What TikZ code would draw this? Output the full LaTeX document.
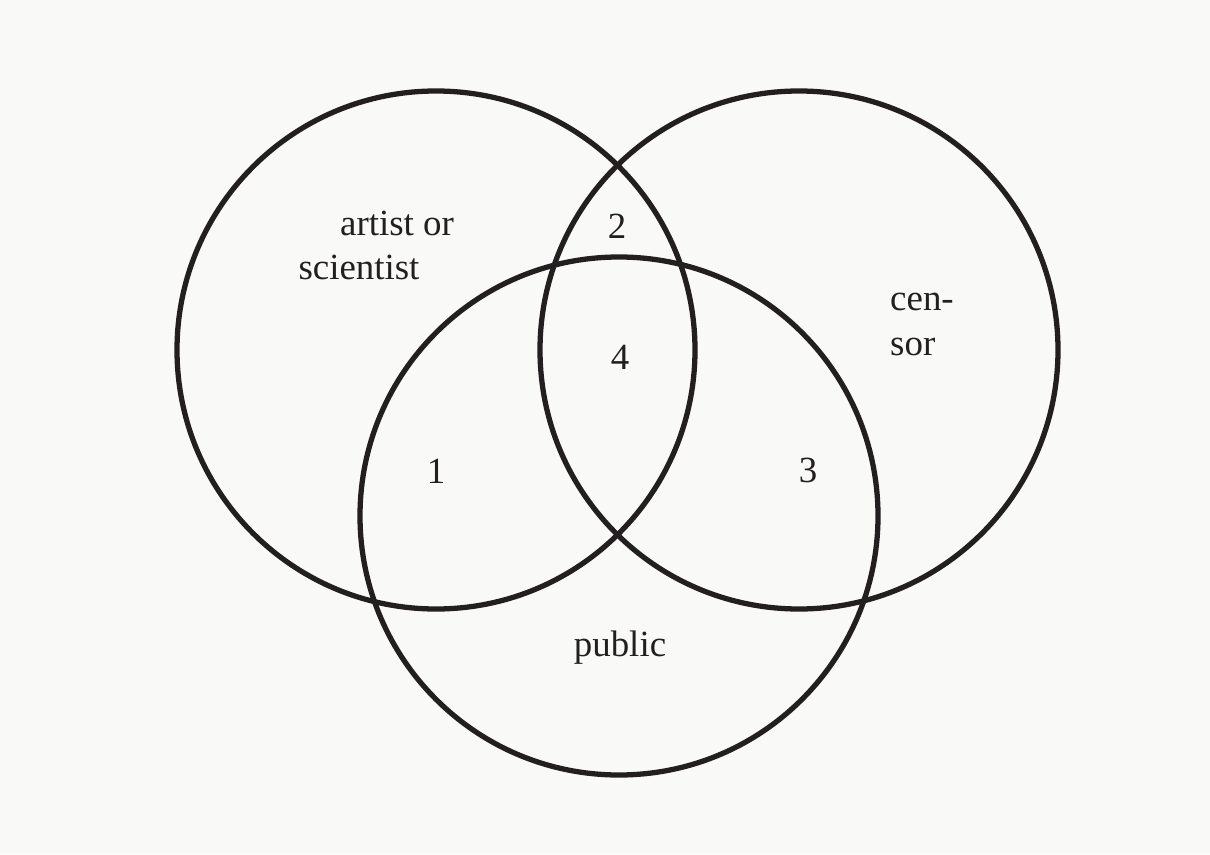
\documentclass[tikz,border=0pt]{standalone}
\usepackage{fontspec}
\setmainfont{Liberation Serif}
\usepackage{xcolor}
\usepackage{tikz}
\definecolor{kagit}{HTML}{F9F9F7}
\definecolor{murekkep}{HTML}{231F20}

\begin{document}
\begin{tikzpicture}[
  halka/.style={draw=murekkep,line width=1.5pt,circle,minimum size=5.18cm,inner sep=0pt},
  etiket/.style={text=murekkep,font=\fontsize{10.5}{12}\selectfont,inner sep=1pt}]
\fill[kagit] (0,0) rectangle (12.10,8.54);
\useasboundingbox (0,0) rectangle (12.10,8.54);
% uc halka
\node[halka] (sanatci) at (4.36,5.04) {};
\node[halka] (sansur) at (7.99,5.04) {};
\node[halka] (kamu) at (6.19,3.38) {};
% etiketler
\node[etiket] (sanatciA) at (3.97,6.31) {artist or};
\node[etiket] (sanatciB) at (3.59,5.87) {scientist};
\node[etiket,anchor=west] (sansurA) at (8.86,5.52) {cen-};
\node[etiket,anchor=west] (sansurB) at (8.86,5.07) {sor};
\node[etiket] (kamuE) at (6.20,2.06) {public};
\node[etiket] (bolge1) at (4.36,3.83) {1};
\node[etiket] (bolge2) at (6.17,6.28) {2};
\node[etiket] (bolge3) at (8.08,3.84) {3};
\node[etiket] (bolge4) at (6.20,4.97) {4};
\end{tikzpicture}
\end{document}
